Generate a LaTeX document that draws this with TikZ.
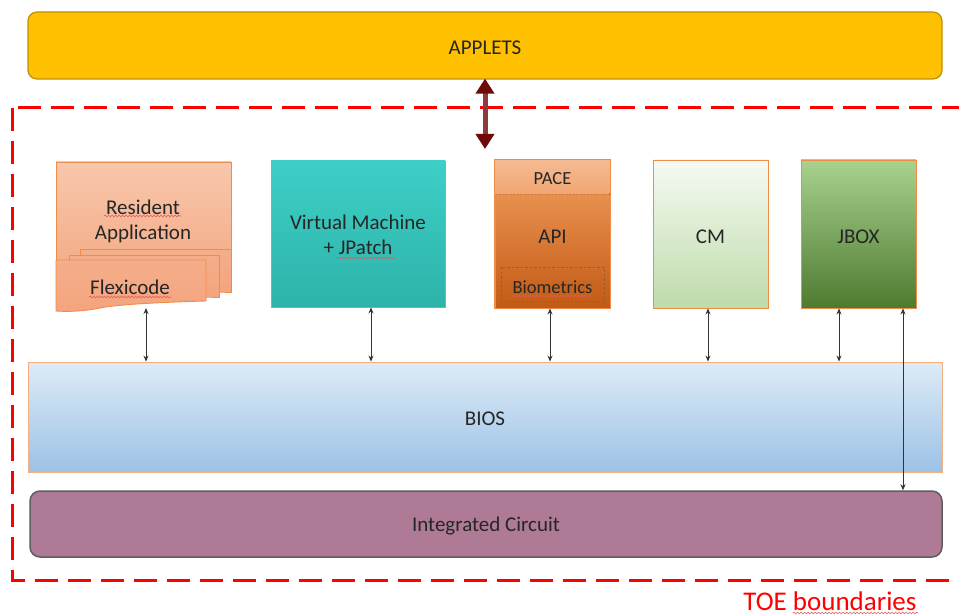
\documentclass[tikz,border=0pt]{standalone}
\usepackage{fontspec}
\setmainfont{Carlito}
\usetikzlibrary{arrows.meta,decorations.pathmorphing,calc}

\definecolor{gold}{HTML}{FFC000}
\definecolor{golddark}{HTML}{BF9000}
\definecolor{edgeorange}{HTML}{F08C4A}
\definecolor{salmonA}{HTML}{F8C7AC}
\definecolor{salmonB}{HTML}{F4AE8A}
\definecolor{salmonC}{HTML}{F4A47E}
\definecolor{tealA}{HTML}{3DCFC6}
\definecolor{tealB}{HTML}{2DB3AA}
\definecolor{apiA}{HTML}{F4A061}
\definecolor{apiB}{HTML}{C25A14}
\definecolor{paceA}{HTML}{F5BA92}
\definecolor{paceB}{HTML}{F2A672}
\definecolor{cmA}{HTML}{F6FAF3}
\definecolor{cmB}{HTML}{BEDBA9}
\definecolor{jbA}{HTML}{A9D28E}
\definecolor{jbB}{HTML}{4E7A30}
\definecolor{biosA}{HTML}{DEEBF7}
\definecolor{biosB}{HTML}{9CC2E5}
\definecolor{icfill}{HTML}{AE7A96}
\definecolor{icedge}{HTML}{5E5E5E}
\definecolor{darkred}{HTML}{6E0A0A}
\definecolor{shaftred}{HTML}{8C3A3A}
\definecolor{toered}{HTML}{FF0000}
\definecolor{squig}{HTML}{E05A5A}
\definecolor{txt}{HTML}{262626}

\begin{document}
\begin{tikzpicture}[x=1pt,y=-1pt,
  every node/.style={text=txt},
  lbl/.style={font=\fontsize{21}{25}\selectfont, align=center, inner sep=0pt},
  small/.style={font=\fontsize{18.5}{22}\selectfont, inner sep=0pt},
  block/.style={draw=edgeorange, line width=0.9pt, inner sep=0pt, minimum width=115pt, minimum height=148pt},
  conn/.style={{Stealth[length=6pt,width=5pt]}-{Stealth[length=6pt,width=5pt]}, line width=0.8pt, draw=black!80},
  spell/.style={draw=squig, line width=0.6pt, decorate, decoration={snake, amplitude=0.9pt, segment length=3.5pt}},
  pagebox/.style={draw=edgeorange, line width=0.9pt, top color=salmonB, bottom color=salmonC}
]
\useasboundingbox (0,0) rectangle (959,615);
\clip (0,0) rectangle (959,615);

% top layer
\node[draw=golddark, line width=1.2pt, fill=gold, rounded corners=9pt,
      minimum width=914pt, minimum height=67pt, inner sep=0pt] (applets) at (485,45.5) {};
\node[lbl] (appletst) at ([yshift=-2pt]applets.center) {APPLETS};

% TOE boundary
\draw[toered, line width=3pt, dash pattern=on 23pt off 10pt] (12,108) rectangle (990,580);
\node[text=toered, font=\fontsize{27}{31}\selectfont, inner sep=0pt, anchor=base] (toe) at (830,610) {TOE boundaries};

% resident application with stacked pages
\fill[top color=salmonA, bottom color=salmonB] (56,162) rectangle (231,262);
\draw[edgeorange, line width=0.9pt] (56,262) -- (56,162) -- (231,162) -- (231,249);
\draw[pagebox] (80,249) -- (231,249) -- (231,292) -- (219,292) -- (80,292) -- cycle;
\draw[pagebox] (69,255) -- (219,255) -- (219,297) -- (206,297) -- (69,297) -- cycle;
\draw[pagebox] (56,260) -- (206,260) -- (206,301) .. controls (170,302) and (120,304) .. (100,308) .. controls (85,311) and (70,312) .. (56,311) -- cycle;
\node[lbl] (res) at (143,221) {Resident\\Application};
\node[lbl] (flex) at (130,287) {Flexicode};
\coordinate (resb) at (146,308);

% component blocks
\node[block, top color=tealA, bottom color=tealB, minimum width=174pt, minimum height=146pt] (vm) at (358,234) {};
\node[lbl] (vmt) at (358,235) {Virtual Machine\\+ JPatch};

\node[block, top color=apiA, bottom color=apiB] (api) at (552.5,234) {};
\fill[top color=paceA, bottom color=paceB] ([xshift=0.45pt,yshift=-0.45pt]api.north west) rectangle (609.5,194);
\draw[apiB!80, line width=0.6pt, dash pattern=on 2pt off 1.5pt] (495.5,194) -- (609.5,194);
\draw[edgeorange, line width=0.9pt] (api.north west) rectangle (api.south east);
\draw[apiB!60!black!80, line width=0.6pt, dash pattern=on 2.5pt off 2pt] (501,267) rectangle (604,301);
\node[small] (pace) at (552.5,179) {PACE};
\node[lbl] (apit) at (552.5,237) {API};
\node[small] (bio) at (552.5,287) {Biometrics};

\node[block, top color=cmA, bottom color=cmB] (cm) at (710.5,234) {};
\node[lbl] (cmt) at ([yshift=-2.5pt]cm.center) {CM};
\node[block, top color=jbA, bottom color=jbB] (jbox) at (858.5,234) {};
\node[lbl] (jboxt) at ([yshift=-2.5pt]jbox.center) {JBOX};

% base layers
\node[draw=edgeorange!70, line width=0.9pt, top color=biosA, bottom color=biosB,
      minimum width=914pt, minimum height=110pt, inner sep=0pt] (bios) at (485,417) {};
\node[lbl] (biost) at ([yshift=-2pt]bios.center) {BIOS};
\node[draw=icedge, line width=1.5pt, fill=icfill, rounded corners=10pt,
      minimum width=912pt, minimum height=66pt, inner sep=0pt] (ic) at (486,524) {};
\node[lbl] (ict) at ([yshift=-2.5pt]ic.center) {Integrated Circuit};

% interfaces
\draw[conn] (resb) -- (resb |- bios.north);
\draw[conn] ([xshift=13pt]vm.south) -- ([xshift=13pt]vm.south |- bios.north);
\draw[conn] ([xshift=-2.5pt]api.south) -- ([xshift=-2.5pt]api.south |- bios.north);
\draw[conn] ([xshift=-2.5pt]cm.south) -- ([xshift=-2.5pt]cm.south |- bios.north);
\draw[conn] ([xshift=-19.5pt]jbox.south) -- ([xshift=-19.5pt]jbox.south |- bios.north);
\draw[conn] ([xshift=44.5pt]jbox.south) -- ([xshift=44.5pt]jbox.south |- ic.north);

% applets access
\draw[shaftred, line width=5pt,
      {Triangle[length=15pt,width=18pt,color=darkred]}-{Triangle[length=15pt,width=18pt,color=darkred]}]
      ([yshift=1pt]applets.south) -- ([yshift=1pt]applets.south |- 0,150);

% spelling marks
\draw[spell] (104,216) -- (181,216);
\draw[spell] (89,297) -- (171,297);
\draw[spell] (337,258) -- (395,258);
\draw[spell] (511,296) -- (591,296);
\draw[spell] (793,613) -- (918,613);
\end{tikzpicture}
\end{document}
